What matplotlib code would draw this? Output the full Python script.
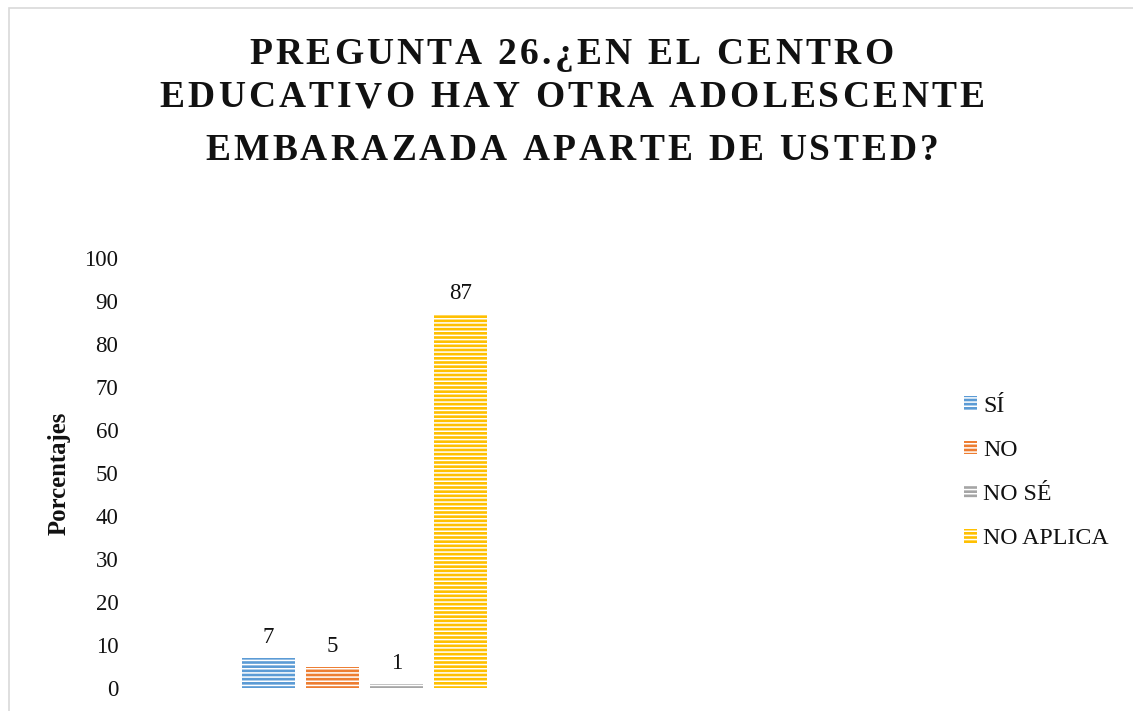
import matplotlib
matplotlib.use("Agg")
import matplotlib.pyplot as plt
from matplotlib.patches import Rectangle
from matplotlib.font_manager import FontProperties

categories = ["SÍ", "NO", "NO SÉ", "NO APLICA"]
values = [7, 5, 1, 87]
colors = ["#5B9BD5", "#ED7D31", "#A5A5A5", "#FFC000"]
title_lines = ["PREGUNTA 26.¿EN EL CENTRO",
               "EDUCATIVO HAY OTRA ADOLESCENTE",
               "EMBARAZADA APARTE DE USTED?"]
y_ticks = list(range(0, 101, 10))
y_label = "Porcentajes"

plt.rcParams['font.family'] = ['Liberation Serif', 'DejaVu Serif']
plt.rcParams['hatch.linewidth'] = 1.1

W, H, DPI = 1133, 711, 100
fig = plt.figure(figsize=(W / DPI, H / DPI), dpi=DPI)
fig.patch.set_facecolor("white")

# outer light border
fig.add_artist(Rectangle((9 / W, -0.05), 1.2, (H - 8) / H + 0.05,
                         transform=fig.transFigure, fill=False,
                         edgecolor="#D9D9D9", linewidth=1.2))

ax = fig.add_axes([140.5 / W, (H - 688) / H, 448 / W, 430 / H])
n = len(values)
offsets = [i - (n - 1) / 2 for i in range(n)]
bars = []
for off, v, c, lab in zip(offsets, values, colors, categories):
    b = ax.bar(off, v, width=53 / 64, color=c, edgecolor="white",
               hatch="----", linewidth=0, label=lab)
    bars.append(b)
    ax.annotate(str(v), (off, v), xytext=(0, 10.8), textcoords="offset points",
                ha="center", va="baseline", fontsize=16.5, color="#111111")

ax.set_xlim(-3.5, 3.5)
ax.set_ylim(0, 100)
ax.set_yticks(y_ticks)
ax.set_xticks([])
ax.tick_params(axis="y", length=0, pad=16, labelsize=16.5, labelcolor="#111111")
for s in ax.spines.values():
    s.set_visible(False)
ax.set_facecolor("none")
fig.text(59 / W, 1 - 473 / H, y_label, rotation=90, ha="center", va="center",
         fontsize=17.8, fontweight="bold", color="#111111")

leg = fig.legend(handles=[b[0] for b in bars], labels=categories,
                 loc="center left", bbox_to_anchor=(964 / W, 1 - 472.5 / H),
                 frameon=False, fontsize=17.2, handlelength=0.55,
                 handleheight=0.5, handletextpad=0.25, labelspacing=0.97,
                 borderpad=0, borderaxespad=0)
for t in leg.get_texts():
    t.set_color("#111111")

# title with letter spacing
renderer = fig.canvas.get_renderer()
fp = FontProperties(family=['Liberation Serif', 'DejaVu Serif'], weight="bold", size=27)
centers = [571, 572, 572]
baselines = [64, 107, 160]
spacing = 3.2
sp_w = renderer.get_text_width_height_descent("a a", fp, ismath=False)[0] - \
    renderer.get_text_width_height_descent("aa", fp, ismath=False)[0]
for line, cx, by in zip(title_lines, centers, baselines):
    widths = []
    for ch in line:
        if ch == " ":
            widths.append(sp_w)
        else:
            widths.append(renderer.get_text_width_height_descent(ch, fp, ismath=False)[0])
    total = sum(widths) + spacing * (len(line) - 1)
    x = cx - total / 2
    for ch, w in zip(line, widths):
        if ch != " ":
            fig.text(x / W, 1 - by / H, ch, fontproperties=fp, ha="left",
                     va="baseline", color="#111111")
        x += w + spacing

fig.savefig("out.png", dpi=DPI)
